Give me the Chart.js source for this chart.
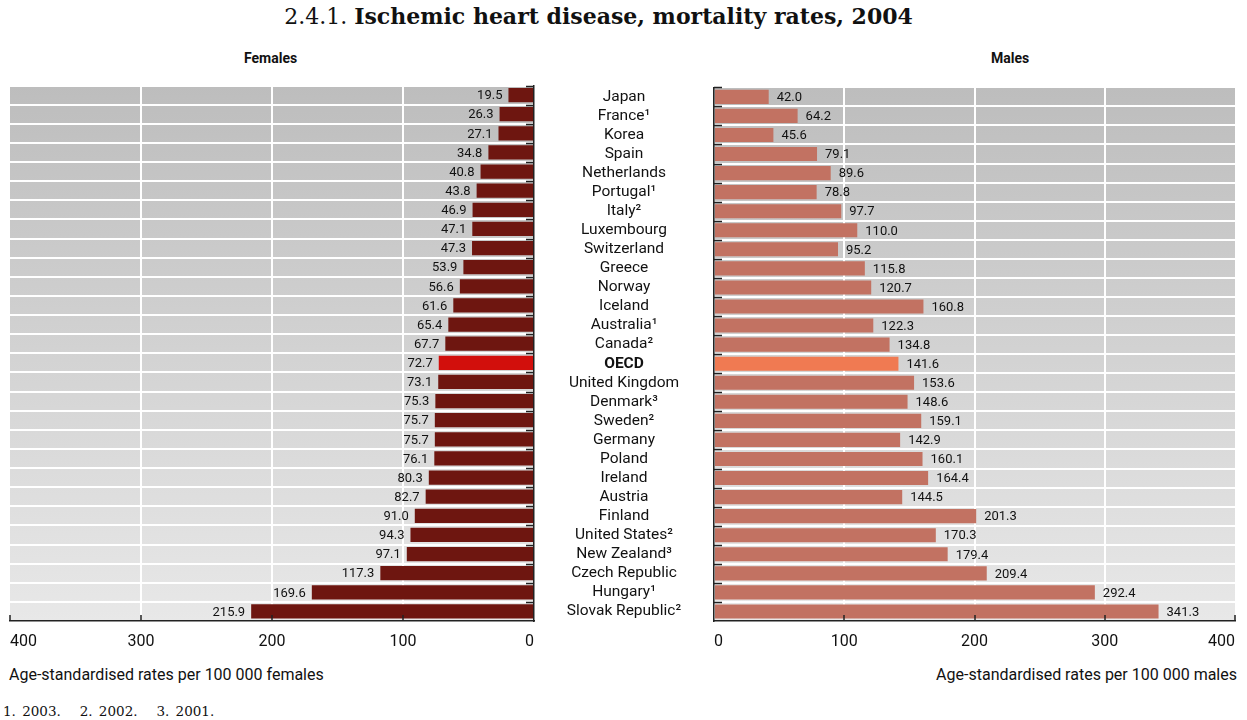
<!DOCTYPE html>
<html>
<head>
<meta charset="utf-8">
<script src="https://cdn.jsdelivr.net/npm/chart.js@4.4.0/dist/chart.umd.min.js"></script>
<style>
  body { margin: 0; width: 1247px; height: 720px; background: #fff; position: relative; overflow: hidden;
         font-family: Roboto, "Liberation Sans", sans-serif; color: #111; }
  .abs { position: absolute; white-space: nowrap; }
  #title { top: 3px; left: -25px; width: 1247px; text-align: center; font-family: "DejaVu Serif", serif; font-size: 22px; }
  .head { top: 50px; font-weight: bold; font-size: 14px; }
  .axtitle { top: 665px; font-size: 16px; }
  #foot { top: 703px; left: 3px; font-family: "DejaVu Serif", serif; font-size: 13.5px; word-spacing: 2px; }
  canvas { position: absolute; }
</style>
</head>
<body>
<div id="title" class="abs">2.4.1. <b>Ischemic heart disease, mortality rates, 2004</b></div>
<div class="abs head" style="left:244px">Females</div>
<div class="abs head" style="left:991px">Males</div>
<canvas id="femalesChart" width="543" height="578" style="left:0;top:78px"></canvas>
<canvas id="malesChart" width="713" height="578" style="left:534px;top:78px"></canvas>
<div class="abs axtitle" style="left:9px">Age-standardised rates per 100 000 females</div>
<div class="abs axtitle" style="right:10px">Age-standardised rates per 100 000 males</div>
<div id="foot" class="abs">1. 2003. &nbsp; 2. 2002. &nbsp; 3. 2001.</div>

<script>
const countries = [
  'Japan', 'France¹', 'Korea', 'Spain', 'Netherlands', 'Portugal¹', 'Italy²', 'Luxembourg',
  'Switzerland', 'Greece', 'Norway', 'Iceland', 'Australia¹', 'Canada²', 'OECD',
  'United Kingdom', 'Denmark³', 'Sweden²', 'Germany', 'Poland', 'Ireland', 'Austria',
  'Finland', 'United States²', 'New Zealand³', 'Czech Republic', 'Hungary¹', 'Slovak Republic²'
];
const females = [19.5, 26.3, 27.1, 34.8, 40.8, 43.8, 46.9, 47.1, 47.3, 53.9, 56.6, 61.6, 65.4, 67.7,
  72.7, 73.1, 75.3, 75.7, 75.7, 76.1, 80.3, 82.7, 91.0, 94.3, 97.1, 117.3, 169.6, 215.9];
const males = [42.0, 64.2, 45.6, 79.1, 89.6, 78.8, 97.7, 110.0, 95.2, 115.8, 120.7, 160.8, 122.3, 134.8,
  141.6, 153.6, 148.6, 159.1, 142.9, 160.1, 164.4, 144.5, 201.3, 170.3, 179.4, 209.4, 292.4, 341.3];
const axisMax = 400;
const axisStep = 100;

const FONT = 'Roboto, "Liberation Sans", sans-serif';
const LABEL_SIZE = 15.5;

// grey gradient behind the bars
const bandBackground = {
  id: 'bandBackground',
  beforeDraw(chart) {
    const { ctx, chartArea: a } = chart;
    const g = ctx.createLinearGradient(0, a.top, 0, a.bottom);
    g.addColorStop(0, '#bdbdbd');
    g.addColorStop(1, '#e8e8e8');
    ctx.save();
    ctx.fillStyle = g;
    ctx.fillRect(a.left, a.top, a.right - a.left, a.bottom - a.top);
    ctx.restore();
  }
};

// short tick marks that point into the plot, from the zero axis and the bottom axis
const innerTicks = {
  id: 'innerTicks',
  afterDraw(chart, args, opts) {
    const { ctx, chartArea: a, scales: { x, y } } = chart;
    const dir = opts.side === 'left' ? -1 : 1;
    const x0 = x.getPixelForValue(0);
    const half = (y.getPixelForValue(1) - y.getPixelForValue(0)) / 2;
    ctx.save();
    ctx.strokeStyle = '#222';
    ctx.lineWidth = 1.5;
    ctx.beginPath();
    for (let i = 0; i < y.ticks.length; i++) {
      const yy = Math.round(y.getPixelForValue(i) - half) + 0.5;
      ctx.moveTo(x0, yy);
      ctx.lineTo(x0 + dir * 8, yy);
    }
    x.ticks.forEach(t => {
      if (t.value === 0) return;
      const xx = Math.round(x.getPixelForValue(t.value));
      ctx.moveTo(xx, a.bottom);
      ctx.lineTo(xx, a.bottom - 6);
    });
    ctx.stroke();
    ctx.restore();
  }
};

// numbers next to the bar ends
const valueLabels = {
  id: 'valueLabels',
  afterDatasetsDraw(chart, args, opts) {
    const { ctx } = chart;
    const meta = chart.getDatasetMeta(0);
    const data = chart.data.datasets[0].data;
    ctx.save();
    ctx.font = '13px ' + FONT;
    ctx.fillStyle = '#111';
    ctx.textBaseline = 'middle';
    ctx.textAlign = opts.side === 'left' ? 'right' : 'left';
    meta.data.forEach((bar, i) => {
      const xx = opts.side === 'left' ? bar.x - 6 : bar.x + 8;
      ctx.fillText(Math.abs(data[i]).toFixed(1), xx, bar.y + 1);
    });
    ctx.restore();
  }
};

// centre the country names in the gap between the two panels
const measure = document.createElement('canvas').getContext('2d');
measure.font = LABEL_SIZE + 'px ' + FONT;
const widestLabel = Math.max(...countries.map(c => measure.measureText(c).width));
const labelOffset = Math.max(0, 90 - widestLabel / 2);

// the females panel runs leftwards: plotted on a negative axis, labelled with absolute values
function xScale(leftwards) {
  return {
    min: leftwards ? -axisMax : 0,
    max: leftwards ? 0 : axisMax,
    ticks: {
      stepSize: axisStep, color: '#111', padding: 0, align: 'inner',
      font: { family: FONT, size: 16 },
      callback: v => Math.abs(v)
    },
    grid: {
      drawTicks: true, tickLength: 11, tickColor: 'rgba(0,0,0,0)',
      lineWidth: 2,
      color: c => (c.tick && Math.abs(c.tick.value) > 0 && Math.abs(c.tick.value) < axisMax) ? '#ffffff' : 'rgba(0,0,0,0)'
    },
    border: { display: true, color: '#222', width: 1.5 },
    afterFit: s => { s.height = 35; }
  };
}

new Chart(document.getElementById('femalesChart'), {
  type: 'bar',
  data: {
    labels: countries,
    datasets: [{
      data: females.map(v => -v),
      backgroundColor: countries.map(c => c === 'OECD' ? '#d20f0c' : '#6e1610'),
      barPercentage: 0.74, categoryPercentage: 1
    }]
  },
  options: {
    indexAxis: 'y', responsive: false, animation: false,
    layout: { padding: { top: 7.5, left: 10, right: 0, bottom: 0 } },
    plugins: { legend: { display: false }, tooltip: { enabled: false }, innerTicks: { side: 'left' }, valueLabels: { side: 'left' } },
    scales: {
      x: xScale(true),
      y: {
        position: 'right',
        ticks: { display: false },
        grid: { offset: true, drawTicks: false, color: '#ffffff', lineWidth: 2 },
        border: { display: true, color: '#222', width: 1.5 },
        afterFit: s => { s.width = 9; }
      }
    }
  },
  plugins: [bandBackground, innerTicks, valueLabels]
});

new Chart(document.getElementById('malesChart'), {
  type: 'bar',
  data: {
    labels: countries,
    datasets: [{
      data: males,
      backgroundColor: countries.map(c => c === 'OECD' ? '#f07a52' : '#c27262'),
      barPercentage: 0.74, categoryPercentage: 1
    }]
  },
  options: {
    indexAxis: 'y', responsive: false, animation: false,
    layout: { padding: { top: 7.5, left: 0, right: 12, bottom: 0 } },
    plugins: { legend: { display: false }, tooltip: { enabled: false }, innerTicks: { side: 'right' }, valueLabels: { side: 'right' } },
    scales: {
      x: xScale(false),
      y: {
        position: 'left',
        ticks: {
          color: '#111', crossAlign: 'center', padding: 0, autoSkip: false,
          font: c => ({ family: FONT, size: LABEL_SIZE, weight: countries[c.index] === 'OECD' ? 'bold' : 'normal' })
        },
        grid: { offset: true, drawTicks: true, tickLength: labelOffset, tickColor: 'rgba(0,0,0,0)', color: '#ffffff', lineWidth: 2 },
        border: { display: true, color: '#222', width: 1.5 },
        afterFit: s => { s.width = 180; }
      }
    }
  },
  plugins: [bandBackground, innerTicks, valueLabels]
});
</script>
</body>
</html>
